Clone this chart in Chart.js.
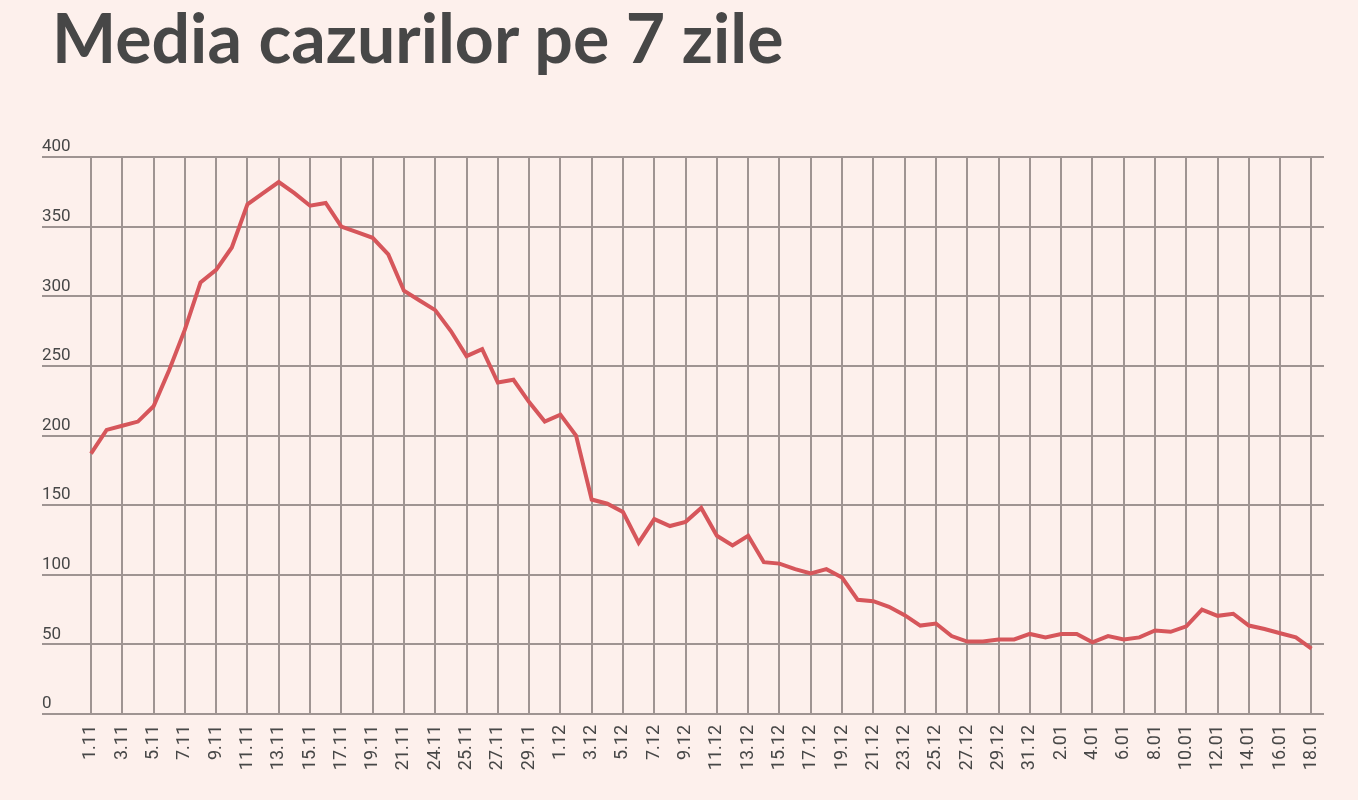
<!DOCTYPE html>
<html lang="ro">
<head>
<meta charset="utf-8">
<title>Media cazurilor pe 7 zile</title>
<script src="https://cdn.jsdelivr.net/npm/chart.js@4.4.1/dist/chart.umd.min.js"></script>
<style>
  html, body { margin: 0; padding: 0; background: #fdf0ec; }
  #wrap { position: relative; width: 1358px; height: 800px; overflow: hidden; }
  h1 {
    position: absolute; left: 52px; top: -3px; margin: 0;
    font-family: Lato, "Open Sans", sans-serif; font-weight: 700;
    font-size: 68px; line-height: 80px; color: #474747; white-space: nowrap;
  }
  canvas { position: absolute; left: 0; top: 0; }
</style>
</head>
<body>
<div id="wrap">
  <h1>Media cazurilor pe 7 zile</h1>
  <canvas id="chart" width="1358" height="800"></canvas>
</div>
<script>
// media pe 7 zile, cate o valoare pe zi de la 1.11 la 18.01
const cazuri = [
  187, 204, 207, 210, 221, 247, 276, 310, 319, 335,
  366, 374, 382, 374, 365, 367, 350, 346, 342, 330,
  304, 297, 290, 275, 257, 262, 238, 240, 224, 210,
  215, 200, 154, 151, 145, 123, 140, 135, 138, 148,
  128, 121, 128, 109, 108, 104, 101, 104, 98, 82,
  81, 77, 71, 63.5, 65, 56, 52, 52, 53.5, 53.5,
  57.5, 55, 57.5, 57.5, 51.5, 56, 53.5, 55, 60, 59,
  63, 75, 70.5, 72, 63.5, 61, 58, 55, 47
];

// etichetele axei x (din doua in doua zile, asa cum apar in grafic)
const etichete = [
  "1.11", "3.11", "5.11", "7.11", "9.11", "11.11", "13.11", "15.11", "17.11", "19.11",
  "21.11", "24.11", "25.11", "27.11", "29.11", "1.12", "3.12", "5.12", "7.12", "9.12",
  "11.12", "13.12", "15.12", "17.12", "19.12", "21.12", "23.12", "25.12", "27.12", "29.12",
  "31.12", "2.01", "4.01", "6.01", "8.01", "10.01", "12.01", "14.01", "16.01", "18.01"
];

const yTicks = [0, 50, 100, 150, 200, 250, 300, 350, 400];

const puncte = cazuri.map((v, i) => ({ x: i, y: v }));
const gridColor = "#9f9492";
const textColor = "#474747";

new Chart(document.getElementById("chart"), {
  type: "line",
  data: {
    datasets: [{
      data: puncte,
      borderColor: "#d6565b",
      borderWidth: 4,
      pointRadius: 0,
      tension: 0,
      fill: false,
    }],
  },
  options: {
    responsive: false,
    animation: false,
    layout: { padding: { left: 42, right: 34, top: 157, bottom: 0 } },
    plugins: {
      legend: { display: false },
      tooltip: { enabled: false },
    },
    scales: {
      x: {
        type: "linear",
        min: -3.13,
        max: 78.8,
        afterBuildTicks: (scale) => {
          scale.ticks = etichete.map((_, i) => ({ value: i * 2 }));
        },
        afterFit: (scale) => { scale.height = 86; },
        border: { display: false },
        grid: { color: gridColor, lineWidth: 2, drawTicks: false },
        ticks: {
          autoSkip: false,
          minRotation: 90,
          maxRotation: 90,
          padding: 11,
          color: textColor,
          font: { family: "Roboto", size: 18 },
          callback: (value) => etichete[value / 2],
        },
      },
      y: {
        min: 0,
        max: 400,
        afterBuildTicks: (scale) => {
          scale.ticks = yTicks.map((v) => ({ value: v }));
        },
        afterFit: (scale) => { scale.width = 0; },
        border: { display: false },
        grid: { color: gridColor, lineWidth: 2, drawTicks: false },
        ticks: {
          mirror: true,
          padding: 0,
          labelOffset: -10,
          color: textColor,
          font: { family: "Roboto", size: 17 },
        },
      },
    },
  },
});
</script>
</body>
</html>
